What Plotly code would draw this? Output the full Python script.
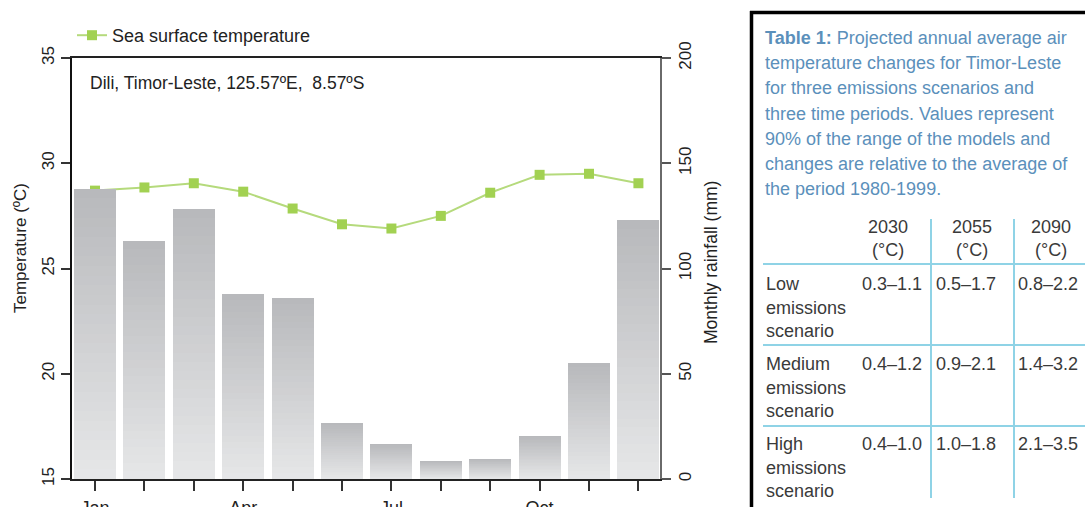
import plotly.graph_objects as go

# ---- data -------------------------------------------------------------
months = ["Jan", "Feb", "Mar", "Apr", "May", "Jun",
          "Jul", "Aug", "Sep", "Oct", "Nov", "Dec"]
month_ticktext = ["Jan", "", "", "Apr", "", "", "Jul", "", "", "Oct", "", ""]
rainfall_mm = [138, 113, 128.5, 88, 86, 26.5, 16.5, 8.5, 9.5, 20.5, 55, 123]
sst_c = [28.7, 28.85, 29.05, 28.65, 27.85, 27.1, 26.9, 27.5, 28.6, 29.45, 29.5, 29.05]

temp_ticks = [15, 20, 25, 30, 35]
rain_ticks = [0, 50, 100, 150, 200]

caption_lines = [
    "<b>Table 1:</b> Projected annual average air",
    "temperature changes for Timor-Leste",
    "for three emissions scenarios and",
    "three time periods. Values represent",
    "90% of the range of the models and",
    "changes are relative to the average of",
    "the period 1980-1999.",
]
periods = ["2030", "2055", "2090"]
scenarios = ["Low", "Medium", "High"]
warming_ranges = [
    ["0.3\u20131.1", "0.5\u20131.7", "0.8\u20132.2"],
    ["0.4\u20131.2", "0.9\u20132.1", "1.4\u20133.2"],
    ["0.4\u20131.0", "1.0\u20131.8", "2.1\u20133.5"],
]

# ---- layout geometry (pixels) ----------------------------------------
W, H = 1085, 507
PL, PR, PT, PB = 72, 660, 58, 479
FONT = "Liberation Sans, Arial, Helvetica, sans-serif"


def fx(xpix):
    return (xpix - PL) / (PR - PL)


def fy(ypix):
    return (PB - ypix) / (PB - PT)


x = list(range(len(months)))
fig = go.Figure()

# rainfall bars with a vertical grey gradient: stacked overlays,
# tallest (darkest) first, shorter and lighter ones on top
n_layers = 30
top_rgb = (184, 185, 188)
bottom_rgb = (231, 232, 233)
for k in range(n_layers):
    frac = 1 - k / n_layers
    c = tuple(round(b + (t - b) * frac) for t, b in zip(top_rgb, bottom_rgb))
    fig.add_trace(go.Bar(
        x=x, y=[v * frac for v in rainfall_mm], yaxis="y2",
        width=0.85, marker=dict(color="rgb(%d,%d,%d)" % c, line=dict(width=0)),
        showlegend=False, hoverinfo="skip",
    ))

fig.add_trace(go.Scatter(
    x=x, y=sst_c, mode="lines+markers", name="Sea surface temperature",
    line=dict(color="#b5da7c", width=2),
    marker=dict(symbol="square", size=10, color="#a2d152"),
))

fig.update_layout(
    width=W, height=H, template="none",
    paper_bgcolor="white", plot_bgcolor="white",
    margin=dict(l=PL, r=W - PR, t=PT, b=H - PB, autoexpand=False),
    barmode="overlay", bargap=0,
    font=dict(family=FONT, size=17, color="#222"),
    showlegend=True,
    legend=dict(orientation="h", x=fx(72), y=fy(17), xanchor="left", yanchor="top",
                bgcolor="rgba(0,0,0,0)", font=dict(size=18, color="#222")),
    xaxis=dict(range=[-0.466, 11.437], tickmode="array", tickvals=x,
               ticktext=month_ticktext, ticks="outside", ticklen=10, tickwidth=2,
               tickcolor="#333", showline=True, linecolor="#222", linewidth=2,
               mirror=True, showgrid=False, zeroline=False, automargin=False,
               tickfont=dict(size=18, color="#222"), ticklabelstandoff=1),
    yaxis=dict(range=[15, 35], tickvals=temp_ticks, ticks="outside", ticklen=9,
               tickwidth=2, tickcolor="#333", showline=True, linecolor="#111",
               linewidth=2, showgrid=False, zeroline=False, tickangle=-90,
               automargin=False, tickfont=dict(size=17, color="#222")),
    yaxis2=dict(range=[0, 200], tickvals=rain_ticks, overlaying="y", side="right",
                ticks="outside", ticklen=9, tickwidth=2, tickcolor="#555",
                showline=True, linecolor="#6a6a6a", linewidth=2, showgrid=False,
                zeroline=False, tickangle=-90, automargin=False,
                tickfont=dict(size=17, color="#222")),
)

ann = []
# axis titles
ann.append(dict(text="Temperature (\u00baC)", x=fx(21), y=fy(248), textangle=-90,
                xanchor="center", yanchor="middle",
                showarrow=False, xref="paper", yref="paper", font=dict(size=17)))
ann.append(dict(text="Monthly rainfall (mm)", x=fx(711), y=fy(263), textangle=-90,
                xanchor="center", yanchor="middle",
                showarrow=False, xref="paper", yref="paper", font=dict(size=17.5)))
# station label
ann.append(dict(text="Dili, Timor-Leste, 125.57\u00baE,  8.57\u00baS", x=fx(88), y=fy(83),
                xanchor="left", yanchor="middle", showarrow=False,
                xref="paper", yref="paper", font=dict(size=17.5)))

# table caption
cap_color = "#5b90bb"
for i, line in enumerate(caption_lines):
    ann.append(dict(text=line, x=fx(763), y=fy(38 + 25.2 * i), xanchor="left",
                    yanchor="middle", showarrow=False, xref="paper", yref="paper",
                    font=dict(size=18, color=cap_color)))

# table header
tbl_color = "#3a3a3a"
head_cx = [888, 972, 1051]
val_cx = [892, 966, 1048]
for p, cx in zip(periods, head_cx):
    ann.append(dict(text=p, x=fx(cx), y=fy(227), xanchor="center", yanchor="middle",
                    showarrow=False, xref="paper", yref="paper",
                    font=dict(size=18, color=tbl_color)))
    ann.append(dict(text="(\u00b0C)", x=fx(cx), y=fy(250), xanchor="center",
                    yanchor="middle", showarrow=False, xref="paper", yref="paper",
                    font=dict(size=18, color=tbl_color)))

# table rows
for r, (name, vals) in enumerate(zip(scenarios, warming_ranges)):
    y0 = 284 + 80 * r
    for j, word in enumerate([name, "emissions", "scenario"]):
        ann.append(dict(text=word, x=fx(764), y=fy(y0 + 23.5 * j), xanchor="left",
                        yanchor="middle", showarrow=False, xref="paper", yref="paper",
                        font=dict(size=18, color=tbl_color)))
    for v, cx in zip(vals, val_cx):
        ann.append(dict(text=v, x=fx(cx), y=fy(y0), xanchor="center", yanchor="middle",
                        showarrow=False, xref="paper", yref="paper",
                        font=dict(size=18, color=tbl_color)))

fig.update_layout(annotations=ann)

shapes = []
rule = dict(color="#8fd3e6", width=2)
for yl in [264, 345, 426]:
    shapes.append(dict(type="line", xref="paper", yref="paper",
                       x0=fx(763), x1=fx(1086), y0=fy(yl), y1=fy(yl), line=rule))
for xl in [931, 1014]:
    shapes.append(dict(type="line", xref="paper", yref="paper",
                       x0=fx(xl), x1=fx(xl), y0=fy(219), y1=fy(498), line=rule))
# black frame of the table panel
frame = dict(color="black", width=3.5)
shapes.append(dict(type="line", xref="paper", yref="paper",
                   x0=fx(750), x1=fx(1090), y0=fy(12.5), y1=fy(12.5), line=frame))
shapes.append(dict(type="line", xref="paper", yref="paper",
                   x0=fx(751.5), x1=fx(751.5), y0=fy(11), y1=fy(510), line=frame))
fig.update_layout(shapes=shapes)

fig.write_html("out.html")
